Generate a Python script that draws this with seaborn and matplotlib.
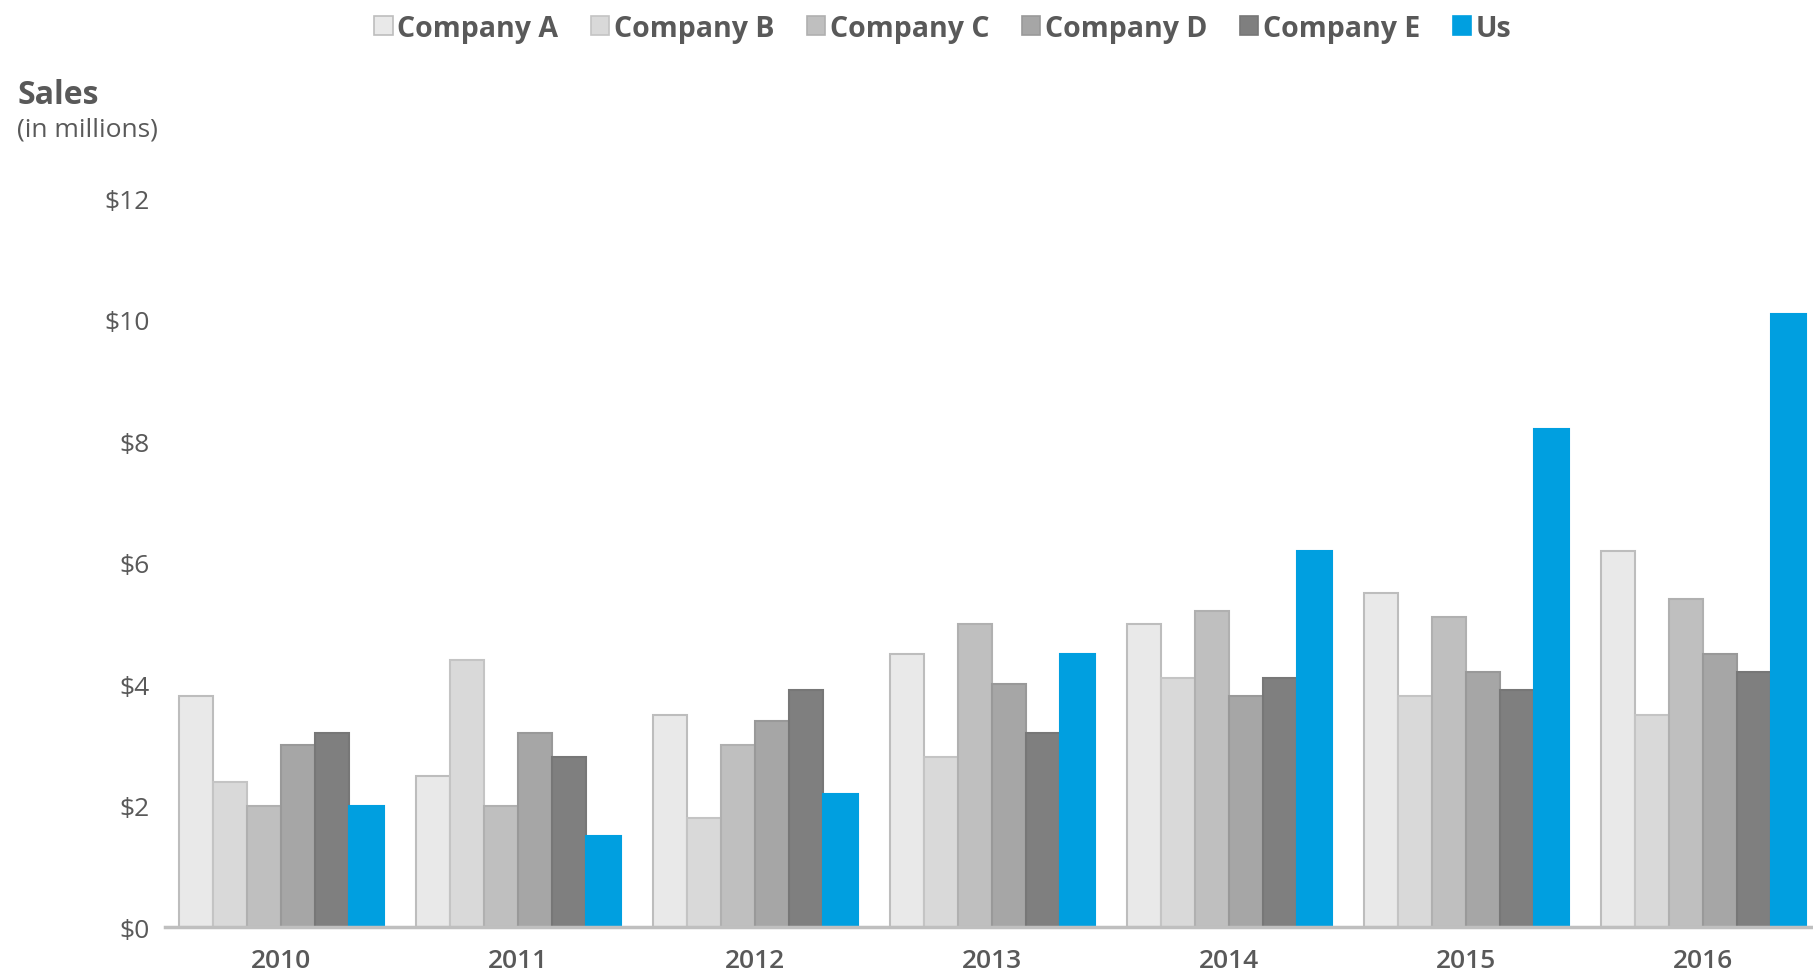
import numpy as np
import pandas as pd
import matplotlib
matplotlib.use("Agg")
import matplotlib.pyplot as plt
import seaborn as sns

years = ["2010", "2011", "2012", "2013", "2014", "2015", "2016"]
companies = ["Company A", "Company B", "Company C", "Company D", "Company E", "Us"]

company_a = [3.8, 2.5, 3.5, 4.5, 5.0, 5.5, 6.2]
company_b = [2.4, 4.4, 1.8, 2.8, 4.1, 3.8, 3.5]
company_c = [2.0, 2.0, 3.0, 5.0, 5.2, 5.1, 5.4]
company_d = [3.0, 3.2, 3.4, 4.0, 3.8, 4.2, 4.5]
company_e = [3.2, 2.8, 3.9, 3.2, 4.1, 3.9, 4.2]
us = [2.0, 1.5, 2.2, 4.5, 6.2, 8.2, 10.1]

y_ticks = [0, 2, 4, 6, 8, 10, 12]

series = [company_a, company_b, company_c, company_d, company_e, us]
df = pd.DataFrame(
    [(y, c, v) for c, vals in zip(companies, series) for y, v in zip(years, vals)],
    columns=["Year", "Company", "Sales"],
)

fills = ["#E9E9E9", "#D9D9D9", "#BFBFBF", "#A6A6A6", "#7F7F7F", "#009FE0"]
edges = ["#BDBDBD", "#C4C4C4", "#B0B0B0", "#999999", "#777777", "#009FE0"]
text_gray = "#595959"

sns.set_theme(style="white")
plt.rcParams["font.family"] = ["Open Sans", "DejaVu Sans"]

fig = plt.figure(figsize=(18.13, 9.79), dpi=100)
ax = fig.add_axes([0.091, 0.0516, 0.909, 0.7451])

sns.barplot(
    data=df, x="Year", y="Sales", hue="Company",
    order=years, hue_order=companies, palette=fills,
    width=0.865, saturation=1, errorbar=None, ax=ax, legend=True,
)

# per-company outlines
for cont, ec in zip(ax.containers, edges):
    for bar in cont:
        bar.set_edgecolor(ec)
        bar.set_linewidth(1.5)

ax.set_xlim(-0.49, 6.464)
ax.set_ylim(0, 12)
ax.set_yticks(y_ticks)
ax.set_yticklabels([f"${v}" for v in y_ticks])
ax.tick_params(axis="y", length=0, pad=11, labelsize=19, labelcolor=text_gray)
ax.tick_params(axis="x", length=0, pad=15, labelsize=19, labelcolor=text_gray)
for lbl in ax.get_xticklabels():
    lbl.set_fontweight("semibold")
ax.set_xlabel("")
ax.set_ylabel("")

for side in ["top", "right", "left"]:
    ax.spines[side].set_visible(False)
ax.spines["bottom"].set_color("#BFBFBF")
ax.spines["bottom"].set_linewidth(2.5)

# legend across the top
handles, labels = ax.get_legend_handles_labels()
ax.get_legend().remove()
for h, ec in zip(handles, edges):
    h.set_edgecolor(ec)
    h.set_linewidth(1.2)
leg = fig.legend(
    handles, labels, loc="center", bbox_to_anchor=(0.52, 0.97), ncol=6,
    frameon=False, handlelength=0.65, handleheight=0.65, handletextpad=0.15,
    columnspacing=1.15, fontsize=20.5,
)
for t in leg.get_texts():
    t.set_color(text_gray)
    t.set_fontweight("bold")

fig.text(0.0094, 0.902, "Sales", fontsize=23, fontweight="bold", color=text_gray, va="center")
fig.text(0.0094, 0.867, "(in millions)", fontsize=19, color=text_gray, va="center")

fig.savefig("out.png", dpi=100)
